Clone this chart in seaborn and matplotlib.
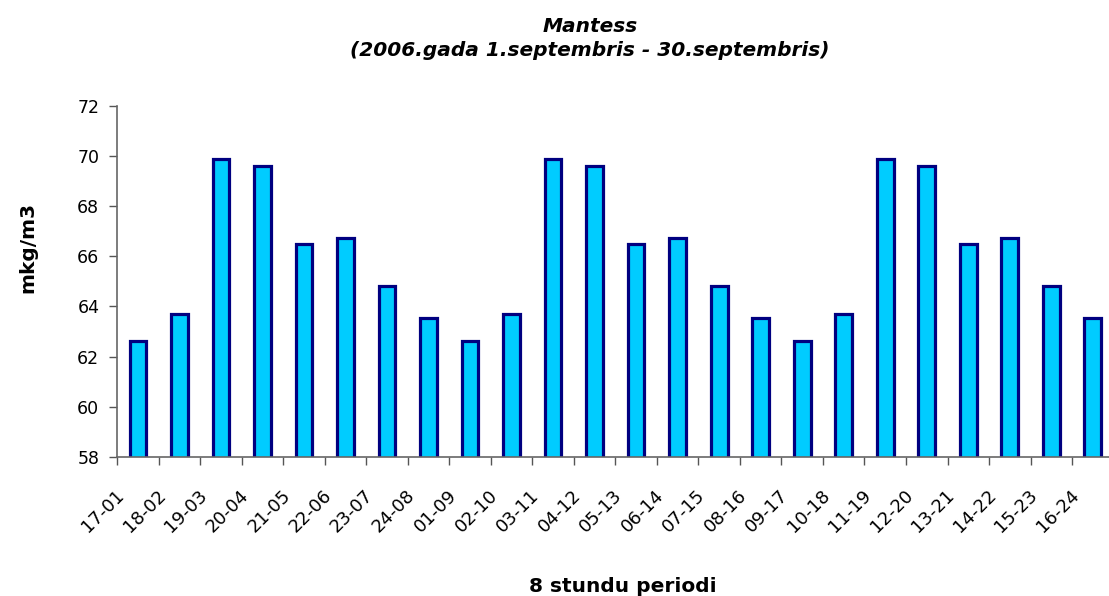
import numpy as np
import matplotlib
matplotlib.use("Agg")
import matplotlib.pyplot as plt
import matplotlib.transforms as mtransforms
import seaborn as sns

# 8-hour periods and mean concentrations
periods = ["17-01", "18-02", "19-03", "20-04", "21-05", "22-06", "23-07", "24-08",
           "01-09", "02-10", "03-11", "04-12", "05-13", "06-14", "07-15", "08-16",
           "09-17", "10-18", "11-19", "12-20", "13-21", "14-22", "15-23", "16-24"]
values = [62.6, 63.7, 69.9, 69.6, 66.5, 66.75, 64.8, 63.55,
          62.6, 63.7, 69.9, 69.6, 66.5, 66.75, 64.8, 63.55,
          62.6, 63.7, 69.9, 69.6, 66.5, 66.75, 64.8, 63.55]
y_ticks = [58, 60, 62, 64, 66, 68, 70, 72]

sns.set_style("white")
plt.rcParams["font.family"] = ["DejaVu Sans"]
plt.rcParams["text.color"] = "black"
plt.rcParams["xtick.color"] = "black"
plt.rcParams["ytick.color"] = "black"

fig = plt.figure(figsize=(11.09, 5.96), dpi=100)
ax = fig.add_axes([0.1058, 0.2337, 0.8983, 0.5884])

sns.barplot(x=periods, y=values, ax=ax, color="#00CCFF", saturation=1,
            width=0.4, edgecolor="#000080", linewidth=2.3)

ax.set_ylim(58, 72)
ax.set_xlim(-0.5, len(periods) - 0.5)
ax.set_yticks(y_ticks)
ax.set_yticklabels([str(t) for t in y_ticks], fontsize=12.5)

# category labels at centres, tick marks between categories
ax.set_xticks(range(len(periods)))
ax.set_xticklabels(periods, rotation=45, ha="right", rotation_mode="anchor", fontsize=13)
ax.tick_params(axis="x", which="major", length=0, pad=14)
ax.set_xticks(np.arange(-0.5, len(periods), 1), minor=True)
ax.tick_params(axis="x", which="minor", length=6, width=1, color="#555555", direction="out", bottom=True)
ax.tick_params(axis="y", length=6, width=1, color="#555555", direction="out", left=True, pad=7)

shift = mtransforms.ScaledTranslation(-23 / 100, -10 / 100, fig.dpi_scale_trans)
for lbl in ax.get_xticklabels():
    lbl.set_transform(lbl.get_transform() + shift)

for side in ["top", "right"]:
    ax.spines[side].set_visible(False)
for side in ["left", "bottom"]:
    ax.spines[side].set_color("#666666")
    ax.spines[side].set_linewidth(1.2)

ax.set_xlabel("")
ax.set_ylabel("")

fig.text(590 / 1109, 1 - 31.5 / 596, "Mantess", ha="center", va="baseline",
         fontsize=14.5, fontweight="bold", fontstyle="italic")
fig.text(590 / 1109, 1 - 56 / 596, "(2006.gada 1.septembris - 30.septembris)", ha="center",
         va="baseline", fontsize=14.5, fontweight="bold", fontstyle="italic")
fig.text(623 / 1109, 1 - 592 / 596, "8 stundu periodi", ha="center", va="baseline",
         fontsize=14.5, fontweight="bold")
fig.text(28 / 1109, 1 - 247 / 596, "mkg/m3", ha="center", va="center", rotation=90,
         fontsize=14.5, fontweight="bold")

fig.savefig("out.png", dpi=100)
